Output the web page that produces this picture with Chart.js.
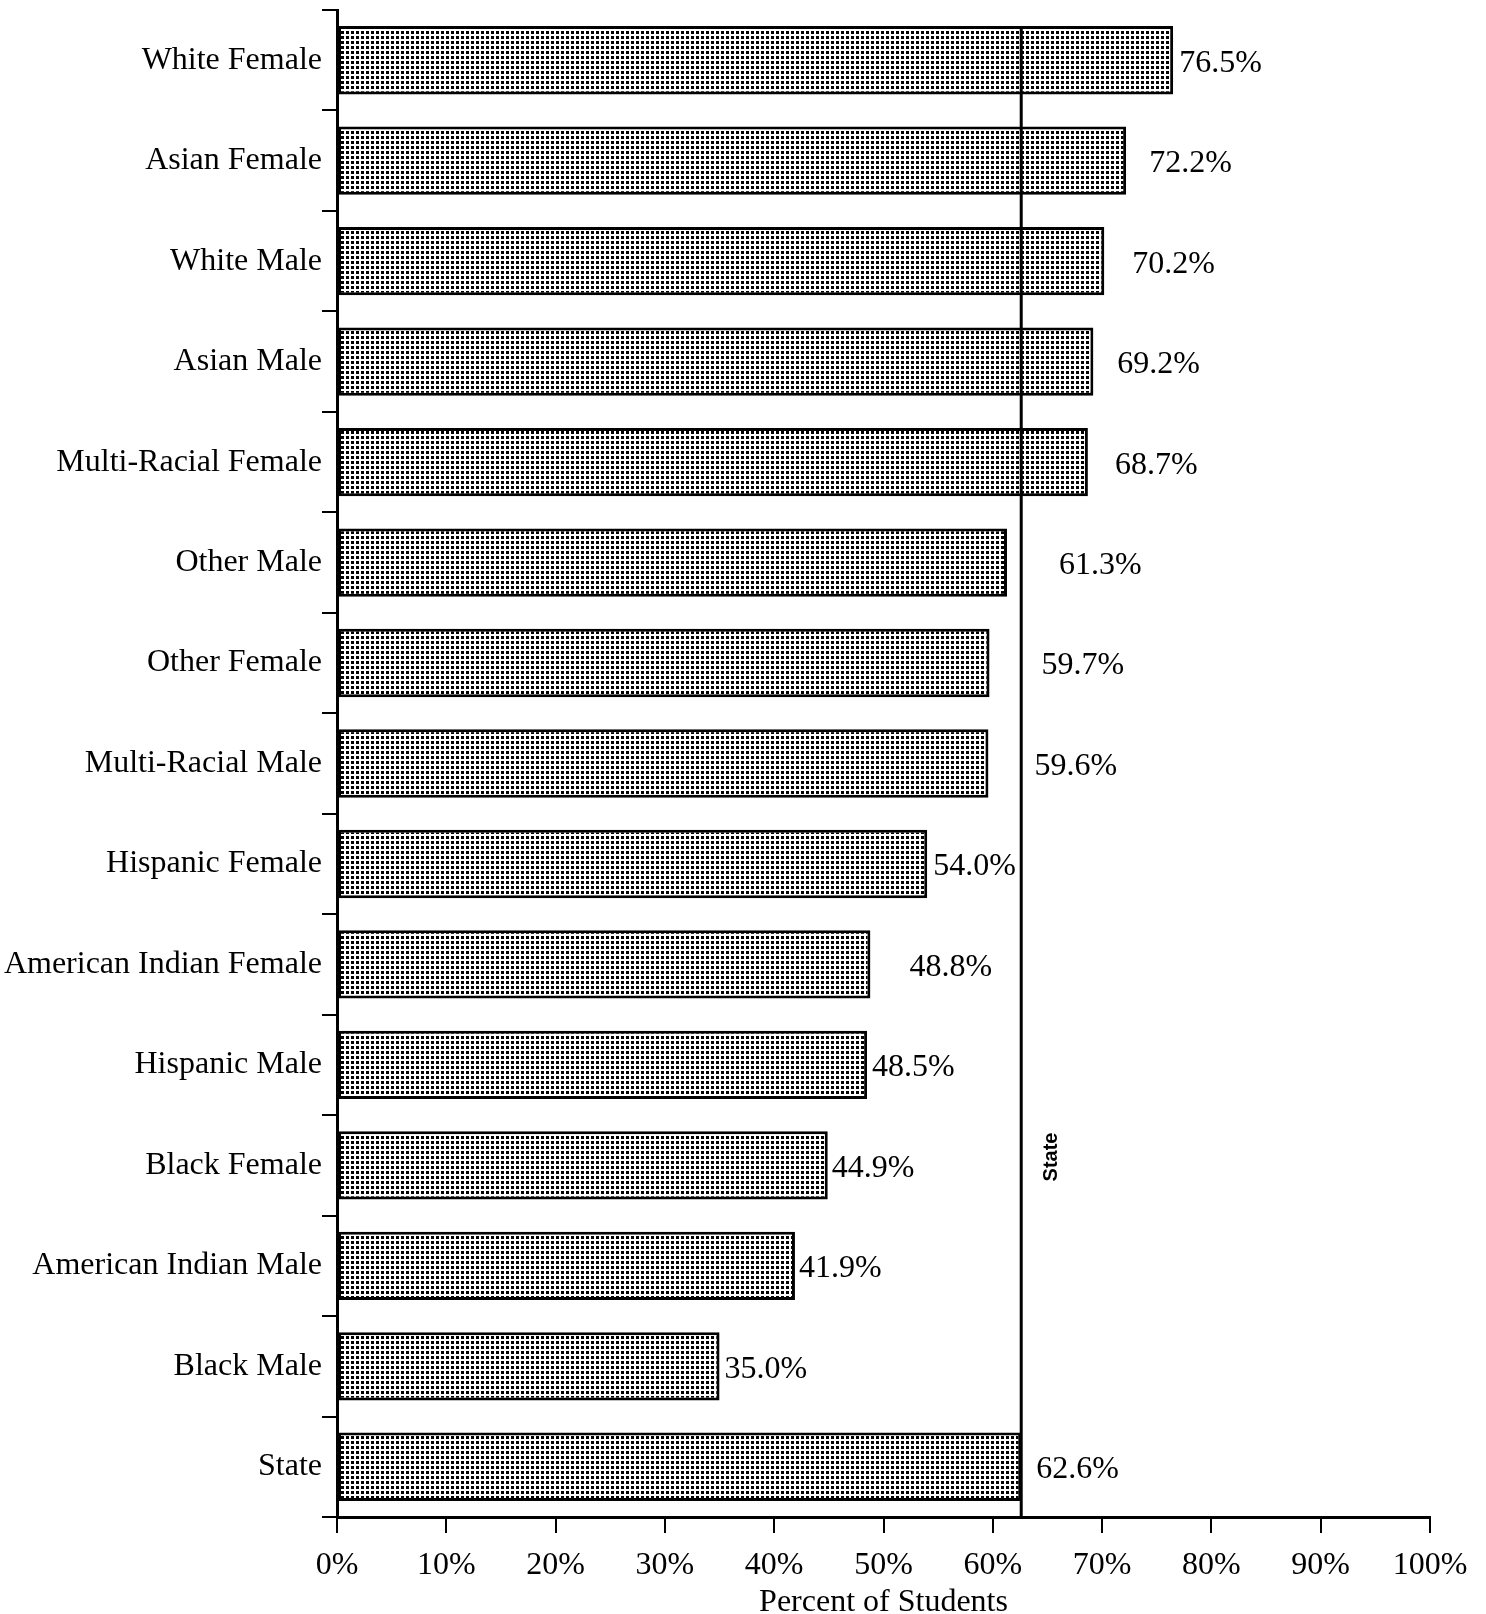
<!DOCTYPE html>
<html>
<head>
<meta charset="utf-8">
<script src="https://cdn.jsdelivr.net/npm/chart.js@4/dist/chart.umd.min.js"></script>
<style>
    html, body { margin: 0; padding: 0; background: #fff; }
    #wrap { width: 1486px; height: 1614px; }
</style>
</head>
<body>
<div id="wrap"><canvas id="groupChart" width="1486" height="1614"></canvas></div>
<script>
// Percent of students by group, state average shown as a vertical line

const categories = [
    'White Female', 'Asian Female', 'White Male', 'Asian Male', 'Multi-Racial Female',
    'Other Male', 'Other Female', 'Multi-Racial Male', 'Hispanic Female', 'American Indian Female',
    'Hispanic Male', 'Black Female', 'American Indian Male', 'Black Male', 'State'
];
const percents = [76.5, 72.2, 70.2, 69.2, 68.7, 61.3, 59.7, 59.6, 54.0, 48.8, 48.5, 44.9, 41.9, 35.0, 62.6];
const valueLabels = ['76.5%', '72.2%', '70.2%', '69.2%', '68.7%', '61.3%', '59.7%', '59.6%', '54.0%', '48.8%', '48.5%', '44.9%', '41.9%', '35.0%', '62.6%'];
const stateValue = percents[categories.indexOf('State')];
const stateLineLabel = 'State';
const xAxisTitle = 'Percent of Students';

const serif = "'Liberation Serif', 'Times New Roman', serif";

// dotted screen fill like the printed original
function dotPattern() {
    const c = document.createElement('canvas');
    c.width = 5; c.height = 5;
    const g = c.getContext('2d');
    g.fillStyle = '#fff';
    g.fillRect(0, 0, 5, 5);
    g.fillStyle = '#000';
    g.fillRect(1, 1, 3, 3);
    return g.createPattern(c, 'repeat');
}

// value labels next to bars + state reference line
const annotatePlugin = {
    id: 'annotate',
    afterDatasetsDraw(chart, args, opts) {
        const ctx = chart.ctx;
        const meta = chart.getDatasetMeta(0);
        const xs = chart.scales.x;

        // state line, from top of first bar down to the x axis
        const sx = xs.getPixelForValue(stateValue);
        const first = meta.data[0];
        ctx.save();
        ctx.strokeStyle = '#000';
        ctx.lineWidth = 3;
        ctx.beginPath();
        ctx.moveTo(sx, first.y - first.height / 2);
        ctx.lineTo(sx, chart.chartArea.bottom);
        ctx.stroke();

        // rotated "State" tag
        ctx.translate(sx + 30, 1157);
        ctx.rotate(-Math.PI / 2);
        ctx.font = "bold 20px 'Liberation Sans', Arial, sans-serif";
        ctx.fillStyle = '#000';
        ctx.textAlign = 'center';
        ctx.textBaseline = 'middle';
        ctx.fillText(stateLineLabel, 0, 0);
        ctx.restore();

        ctx.save();
        ctx.font = '32px ' + serif;
        ctx.fillStyle = '#000';
        ctx.textAlign = 'left';
        ctx.textBaseline = 'middle';
        meta.data.forEach((bar, i) => {
            ctx.fillText(valueLabels[i], bar.x + opts.gaps[i], bar.y + 3);
        });
        ctx.restore();
    }
};

new Chart(document.getElementById('groupChart'), {
    type: 'bar',
    data: {
        labels: categories,
        datasets: [{
            data: percents,
            backgroundColor: dotPattern(),
            borderColor: '#000',
            borderWidth: 3,
            borderSkipped: false,
            barPercentage: 0.68,
            categoryPercentage: 1.0
        }]
    },
    options: {
        indexAxis: 'y',
        responsive: false,
        devicePixelRatio: 1,
        animation: false,
        layout: { padding: { top: 10, right: 56, left: 0, bottom: 0 } },
        plugins: {
            legend: { display: false },
            tooltip: { enabled: false },
            annotate: {
                // pixel gap between bar end and its label (labels hop over the state line)
                gaps: [6, 23, 28, 24, 27, 52, 52, 46, 6, 39, 5, 4, 4, 5, 15]
            }
        },
        scales: {
            x: {
                min: 0,
                max: 100,
                ticks: {
                    stepSize: 10,
                    color: '#000',
                    padding: 13,
                    maxRotation: 0,
                    font: { family: serif, size: 32 },
                    callback: (v) => v + '%'
                },
                grid: {
                    drawOnChartArea: false,
                    drawTicks: true,
                    tickLength: 16,
                    color: '#000',
                    lineWidth: 2
                },
                border: { color: '#000', width: 3 },
                title: {
                    display: true,
                    text: xAxisTitle,
                    color: '#000',
                    font: { family: serif, size: 32, lineHeight: 0.7 },
                    padding: { top: 0, bottom: 0 }
                },
                afterFit: (scale) => { scale.height = 97; }
            },
            y: {
                ticks: {
                    color: '#000',
                    padding: 0,
                    font: { family: serif, size: 32 }
                },
                grid: {
                    offset: true,
                    drawOnChartArea: false,
                    drawTicks: true,
                    tickLength: 15,
                    color: '#000',
                    lineWidth: 2
                },
                border: { color: '#000', width: 3 },
                afterFit: (scale) => {
                    scale.width = 337;
                    // labels sit in the band centres, no extra room needed at the ends
                    scale.paddingTop = 0;
                    scale.paddingBottom = 0;
                }
            }
        }
    },
    plugins: [annotatePlugin]
});
</script>
</body>
</html>
